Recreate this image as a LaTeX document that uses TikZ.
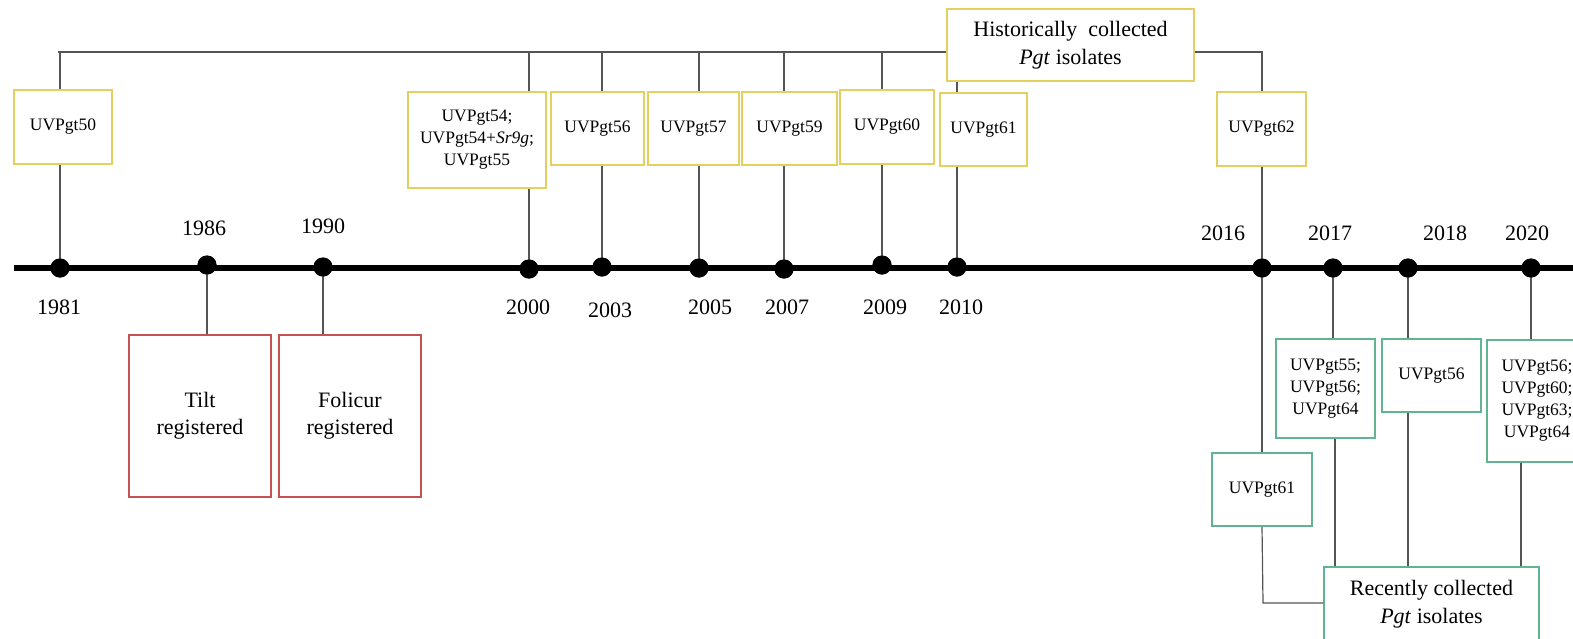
\documentclass[tikz,border=0pt]{standalone}
\usepackage{fontspec}
\setmainfont{Liberation Serif}
\newfontfamily\tnr{Liberation Serif}
\definecolor{ycol}{RGB}{228,208,96}
\definecolor{gcol}{RGB}{96,180,146}
\definecolor{rcol}{RGB}{196,82,82}
\definecolor{lcol}{RGB}{85,85,85}
\tikzset{
  box/.style={draw, line width=1.5pt, inner sep=0pt, align=center, font=\tnr\fontsize{17.5}{22}\selectfont},
  ybox/.style={box, draw=ycol},
  gbox/.style={box, draw=gcol},
  rbox/.style={box, draw=rcol, font=\tnr\fontsize{22}{27}\selectfont},
  bigbox/.style={box, font=\tnr\fontsize{22}{28}\selectfont},
  dot/.style={circle, fill=black, inner sep=0pt, minimum size=19pt},
  conn/.style={draw=lcol, line width=1.2pt},
  yr/.style={inner sep=0pt, font=\tnr\fontsize{22}{26}\selectfont},
}
\begin{document}
\begin{tikzpicture}[x=1pt,y=-1pt]
\useasboundingbox (0,0) rectangle (1573,638);
% dots
\node[dot] (d81) at (60,268) {};
\node[dot] (d86) at (207,265) {};
\node[dot] (d90) at (323,267) {};
\node[dot] (d00) at (529,269) {};
\node[dot] (d03) at (602,267) {};
\node[dot] (d05) at (699,268) {};
\node[dot] (d07) at (784,269) {};
\node[dot] (d09) at (882,265) {};
\node[dot] (d10) at (957,267) {};
\node[dot] (d16) at (1262,268) {};
\node[dot] (d17) at (1333,268) {};
\node[dot] (d18) at (1408,268) {};
\node[dot] (d20) at (1531,268) {};
\coordinate (tlstart) at (14,268);
\coordinate (tlend) at (1580,268);
% year labels
\node[yr] (y81) at (59,307) {1981};
\node[yr] (y86) at (204,228) {1986};
\node[yr] (y90) at (323,226) {1990};
\node[yr] (y00) at (528,307) {2000};
\node[yr] (y03) at (610,310) {2003};
\node[yr] (y05) at (710,307) {2005};
\node[yr] (y07) at (787,307) {2007};
\node[yr] (y09) at (885,307) {2009};
\node[yr] (y10) at (961,307) {2010};
\node[yr] (y16) at (1223,233) {2016};
\node[yr] (y17) at (1330,233) {2017};
\node[yr] (y18) at (1445,233) {2018};
\node[yr] (y20) at (1527,233) {2020};
% yellow boxes
\node[ybox, minimum width=98pt, minimum height=74pt] (b50) at (63,127) {UVPgt50};
\node[ybox, minimum width=138pt, minimum height=96pt] (b54) at (477,140) {UVPgt54;\\UVPgt54+\textit{Sr9g};\\UVPgt55};
\node[ybox, minimum width=93pt, minimum height=73pt] (b56) at (597.5,128.5) {UVPgt56};
\node[ybox, minimum width=91pt, minimum height=73pt] (b57) at (693.5,128.5) {UVPgt57};
\node[ybox, minimum width=95pt, minimum height=73pt] (b59) at (789.5,128.5) {UVPgt59};
\node[ybox, minimum width=94pt, minimum height=74pt] (b60) at (887,127) {UVPgt60};
\node[ybox, minimum width=87pt, minimum height=73pt] (b61) at (983.5,129.5) {UVPgt61};
\node[ybox, minimum width=89pt, minimum height=74pt] (b62) at (1261.5,129) {UVPgt62};
\node[ybox, bigbox, draw=ycol, minimum width=247pt, minimum height=72pt] (hist) at (1070.5,45) {Historically\ \ collected\\\textit{Pgt} isolates};
% red boxes
\node[rbox, minimum width=142pt, minimum height=162pt] (tilt) at (200,416) {Tilt\\registered};
\node[rbox, minimum width=142pt, minimum height=162pt] (folicur) at (350,416) {Folicur\\registered};
% green boxes
\node[gbox, minimum width=100pt, minimum height=73pt] (g61) at (1262,489.5) {UVPgt61};
\node[gbox, minimum width=99pt, minimum height=99pt] (g17) at (1325.5,388.5) {UVPgt55;\\UVPgt56;\\UVPgt64};
\node[gbox, minimum width=99pt, minimum height=73pt] (g18) at (1431.5,375.5) {UVPgt56};
\node[gbox, minimum width=100pt, minimum height=122pt] (g20) at (1537,401) {UVPgt56;\\UVPgt60;\\UVPgt63;\\UVPgt64};
\node[gbox, bigbox, draw=gcol, minimum width=215pt, minimum height=74pt] (recent) at (1431.5,604) {Recently collected\\\textit{Pgt} isolates};
% top bracket
\coordinate (tl) at (58,52);
\draw[conn] (tl) -- (tl -| hist.west);
\draw[conn] (tl -| hist.east) -- (tl -| d16) -- (b62.north -| d16);
\draw[conn] (tl -| d81) -- (b50.north -| d81);
\draw[conn] (tl -| d00) -- (b54.north -| d00);
\draw[conn] (tl -| d03) -- (b56.north -| d03);
\draw[conn] (tl -| d05) -- (b57.north -| d05);
\draw[conn] (tl -| d07) -- (b59.north -| d07);
\draw[conn] (tl -| d09) -- (b60.north -| d09);
\draw[conn] (hist.south -| d10) -- (b61.north -| d10);
% boxes to dots
\draw[conn] (b50.south -| d81) -- (d81.center);
\draw[conn] (b54.south -| d00) -- (d00.center);
\draw[conn] (b56.south -| d03) -- (d03.center);
\draw[conn] (b57.south -| d05) -- (d05.center);
\draw[conn] (b59.south -| d07) -- (d07.center);
\draw[conn] (b60.south -| d09) -- (d09.center);
\draw[conn] (b61.south -| d10) -- (d10.center);
\draw[conn] (b62.south -| d16) -- (d16.center);
\draw[conn] (d86.center) -- (tilt.north -| d86);
\draw[conn] (d90.center) -- (folicur.north -| d90);
% bottom bracket
\draw[conn] (d16.center) -- (g61.north -| d16);
\coordinate (rb) at (1263,603);
\draw[conn] (g61.south -| d16) -- (rb) -- (rb -| recent.west);
\draw[conn] (d17.center) -- (g17.north -| d17);
\coordinate (g17b) at ([xshift=2pt]g17.south -| d17);
\draw[conn] (g17b) -- (g17b |- recent.north);
\draw[conn] (d18.center) -- (g18.north -| d18);
\draw[conn] (g18.south -| d18) -- (recent.north -| d18);
\draw[conn] (d20.center) -- (g20.north -| d20);
\coordinate (g20b) at ([xshift=-16pt]g20.south);
\draw[conn] (g20b) -- (g20b |- recent.north);
% timeline
\draw[line width=6pt] (tlstart) -- (tlend);
\foreach \d in {d81,d86,d90,d00,d03,d05,d07,d09,d10,d16,d17,d18,d20}
  \fill (\d) circle (9.5pt);
\end{tikzpicture}
\end{document}
